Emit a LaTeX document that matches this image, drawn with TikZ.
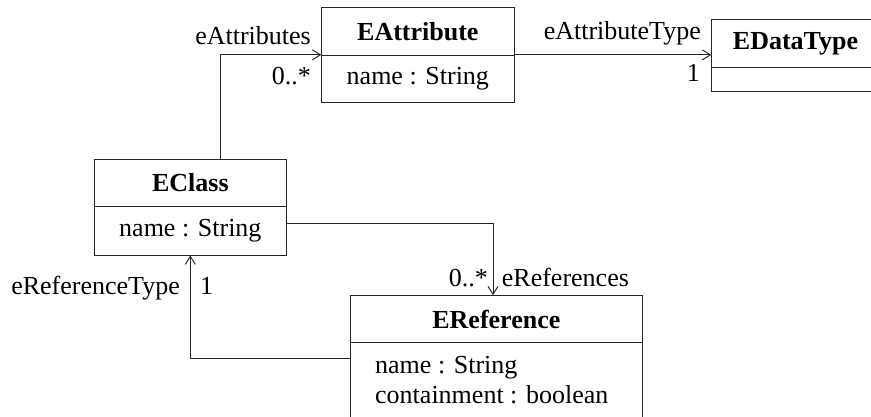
\documentclass[tikz,border=0pt]{standalone}
\usepackage{fontspec}
\setmainfont{Liberation Serif}
\usetikzlibrary{arrows.meta}
\colorlet{umlline}{black!85}
\begin{document}
\begin{tikzpicture}[x=1pt,y=-1pt,
  every node/.style={font=\fontsize{26}{30}\selectfont, inner sep=0pt},
  classbox/.style={draw=umlline, line width=0.95pt, inner sep=0pt},
  divider/.style={draw=umlline, line width=0.95pt},
  title/.style={font=\fontsize{26}{30}\selectfont\bfseries},
  assoc/.style={draw=umlline, line width=0.95pt, -{Straight Barb[length=8pt,width=10pt,line width=0.95pt]}}]
\useasboundingbox (0,0) rectangle (871,417);

% class boxes
\node[classbox, minimum width=192.3pt, minimum height=94.3pt] (attr)   at (417.85,54.85) {};
\node[classbox, minimum width=167.6pt, minimum height=72.4pt] (dtype)  at (795.5,55.5) {};
\node[classbox, minimum width=192.7pt, minimum height=96pt]   (eclass) at (190.35,207) {};
\node[classbox, minimum width=291.3pt, minimum height=125.3pt](eref)   at (496.35,358.35) {};

% compartment dividers
\draw[divider] (attr.west |- 0,55) -- (attr.east |- 0,55);
\draw[divider] (dtype.west |- 0,67.7) -- (dtype.east |- 0,67.7);
\draw[divider] (eclass.west |- 0,206.7) -- (eclass.east |- 0,206.7);
\draw[divider] (eref.west |- 0,342.7) -- (eref.east |- 0,342.7);

% class names
\node[title] (attrT)   at (417.85,31.35) {EAttribute};
\node[title] (dtypeT)  at (795.5,43.5)   {EDataType};
\node[title] (eclassT) at (190.35,182.85){EClass};
\node[title] (erefT)   at (496.35,319.2) {EReference};

% attributes
\node (attrA)   at (417.85,78.5)  {name : String};
\node (eclassA) at (190.35,230.85){name : String};
\node[anchor=base west] (erefA1) at (375,373) {name : String};
\node[anchor=base west] (erefA2) at (375,403) {containment : boolean};

% associations
\draw[assoc] ([xshift=29.65pt]eclass.north) |- (attr.west);
\draw[assoc] (attr.east) -- (attr.east -| dtype.west);
\draw[assoc] ([yshift=-16pt]eclass.east) -| ([xshift=-3.35pt]eref.north);
\draw[assoc] (eref.west) -| (eclass.south);

% role names and multiplicities
\node[anchor=base east] (r1) at (311,45)    {eAttributes};
\node[anchor=base east] (m1) at (311,85)    {0..*};
\node[anchor=base east] (r2) at (701,40)    {eAttributeType};
\node[anchor=base east] (m2) at (700,81.7)  {1};
\node[anchor=base east] (m3) at (488,287)   {0..*};
\node[anchor=base west] (r3) at (501.7,287) {eReferences};
\node[anchor=base east] (r4) at (180,294)   {eReferenceType};
\node[anchor=base west] (m4) at (200,294)   {1};
\end{tikzpicture}
\end{document}
